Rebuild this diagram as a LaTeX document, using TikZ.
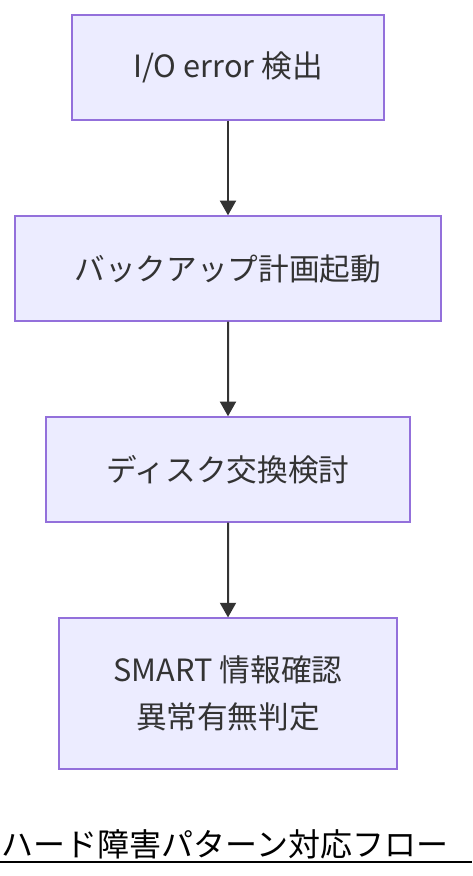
\documentclass[tikz,border=0pt]{standalone}
\usepackage{fontspec}
\setmainfont{Noto Sans CJK JP}
\usetikzlibrary{arrows.meta}
\definecolor{boxfill}{HTML}{ECECFF}
\definecolor{boxline}{HTML}{9370DB}
\definecolor{txt}{HTML}{333333}
\begin{document}
\begin{tikzpicture}[x=0.75pt,y=-0.75pt,
        level distance=150.75pt,
        level 3/.style={level distance=168pt},
        every node/.style={draw=boxline, fill=boxfill, line width=1.1pt, text=txt,
            minimum height=78.75pt, align=center, font=\fontsize{23}{35}\selectfont},
        edge from parent/.style={draw=txt, line width=1.5pt, -{Triangle[length=11pt,width=12pt]}}
        ]
    \useasboundingbox (0,0) rectangle (472,876);
    \node[minimum width=234pt] (detect) at (228,67.5) {I/O error 検出}
        child {node[minimum width=319.5pt] (backup) {バックアップ計画起動}
            child {node[minimum width=273pt] (swap) {ディスク交換検討}
                child {node[minimum width=253.5pt, minimum height=113pt] (smart) {SMART 情報確認\\異常有無判定}}
            }
        };
    % title
    \node[draw=none, fill=none, text=black, anchor=west, inner sep=0pt,
        font=\fontsize{24}{28}\selectfont] (title) at (1,844) {ハード障害パターン対応フロー};
    \draw[line width=1.5pt] (0,862) -- (472,862);
\end{tikzpicture}
\end{document}
